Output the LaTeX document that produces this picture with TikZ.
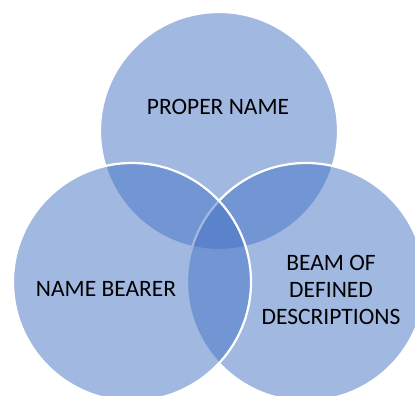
\documentclass[tikz,border=0pt]{standalone}
\usepackage{fontspec}
\setmainfont{Carlito}
\usepackage{xcolor}
\usetikzlibrary{positioning}
\definecolor{accentblue}{HTML}{4472C4}
\tikzset{
    venn/.style={circle, minimum size=238pt, inner sep=0pt, fill=accentblue, fill opacity=0.5, draw=white, line width=2.2pt},
    lbl/.style={align=center, font=\fontsize{23.5}{27}\selectfont, text=black}
}

\begin{document}
\begin{tikzpicture}[x=1pt, y=-1pt]
                                \useasboundingbox (0, 0) rectangle (415, 396);
                                \clip (0, 0) rectangle (415, 396);
                                \node[venn] (pn) at (219, 131) {};
                                \node[venn] (dd) at (306, 282) {};
                                \node[venn] (nb) at (132, 282) {};
                                \node[lbl] (pnl) at (218, 107) {PROPER NAME};
                                \node[lbl] (nbl) at (106, 289) {NAME BEARER};
                                \node[lbl] (ddl) at (331, 290) {BEAM OF\\DEFINED\\DESCRIPTIONS};
                            \end{tikzpicture}
\end{document}
